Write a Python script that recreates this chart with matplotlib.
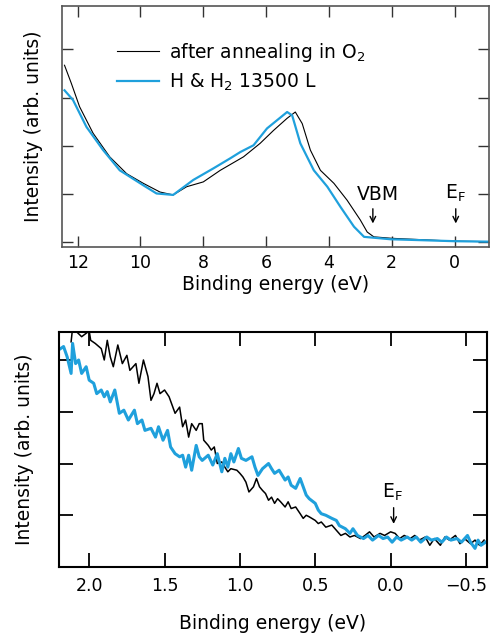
import numpy as np
import matplotlib.pyplot as plt

plt.rcParams['font.family'] = ['DejaVu Sans']
plt.rcParams['mathtext.fontset'] = 'dejavusans'

# valence band, wide range
vb_energy_o2 = [12.42, 12.2, 11.94, 11.51, 10.98, 10.44, 9.91, 9.38, 8.96, 8.53, 8.0,
                7.46, 6.72, 6.19, 5.76, 5.33, 5.07, 4.85, 4.59, 4.27, 3.84, 3.42,
                3.0, 2.78, 2.57, 2.0, 1.0, 0.0, -1.1]
vb_int_o2 = [3.67, 3.29, 2.81, 2.26, 1.77, 1.42, 1.22, 1.04, 0.98, 1.15, 1.25,
             1.49, 1.77, 2.05, 2.32, 2.57, 2.70, 2.46, 1.91, 1.49, 1.22, 0.87,
             0.46, 0.21, 0.11, 0.08, 0.05, 0.02, 0.01]

vb_energy_h = [12.42, 12.15, 11.72, 11.19, 10.66, 9.91, 9.49, 8.96, 8.32, 7.68, 7.14,
               6.82, 6.40, 5.97, 5.65, 5.33, 5.17, 4.91, 4.48, 4.05, 3.63, 3.20,
               2.88, 2.03, 1.0, 0.0, -1.1]
vb_int_h = [3.15, 2.95, 2.39, 1.91, 1.49, 1.18, 1.01, 0.98, 1.29, 1.53, 1.74,
            1.87, 2.01, 2.36, 2.53, 2.70, 2.63, 2.05, 1.49, 1.15, 0.73, 0.32,
            0.11, 0.06, 0.04, 0.02, 0.01]

# gap region near E_F
gap_energy_o2 = [2.12, 2.11, 2.05, 2.0, 1.99, 1.96, 1.92, 1.90, 1.88, 1.86, 1.84, 1.81,
                 1.78, 1.75, 1.73, 1.69, 1.67, 1.64, 1.61, 1.59, 1.57, 1.55, 1.53,
                 1.50, 1.47, 1.45, 1.43, 1.40, 1.38, 1.36, 1.34, 1.32, 1.29, 1.27,
                 1.25, 1.24, 1.21, 1.19, 1.17, 1.15, 1.12, 1.10, 1.08, 1.06, 1.02,
                 1.0, 0.98, 0.96, 0.94, 0.91, 0.89, 0.87, 0.85, 0.83, 0.81, 0.79,
                 0.77, 0.75, 0.73, 0.70, 0.68, 0.66, 0.63, 0.60, 0.58, 0.56, 0.54,
                 0.50, 0.48, 0.46, 0.43, 0.39, 0.36, 0.33, 0.30, 0.27, 0.24, 0.20,
                 0.17, 0.14, 0.11, 0.07, 0.04, 0.0, -0.03, -0.06, -0.09, -0.13,
                 -0.16, -0.19, -0.23, -0.26, -0.29, -0.33, -0.36, -0.39, -0.43,
                 -0.46, -0.49, -0.53, -0.56, -0.59, -0.62]
gap_int_o2 = [4.35, 4.62, 4.45, 4.56, 4.38, 4.32, 4.22, 4.0, 4.38, 4.06, 3.87, 4.29,
              3.93, 4.09, 3.80, 3.93, 3.55, 4.0, 3.68, 3.22, 3.35, 3.55, 3.35,
              3.42, 3.29, 3.13, 2.97, 3.09, 2.71, 2.84, 2.51, 2.77, 2.64, 2.77,
              2.77, 2.45, 2.35, 2.26, 2.32, 2.0, 2.03, 1.93, 1.84, 1.90, 1.87,
              1.81, 1.74, 1.64, 1.45, 1.55, 1.71, 1.55, 1.48, 1.42, 1.29, 1.35,
              1.23, 1.32, 1.26, 1.16, 1.26, 1.13, 1.16, 1.03, 0.94, 1.0, 0.97,
              0.90, 0.84, 0.87, 0.77, 0.81, 0.71, 0.61, 0.65, 0.58, 0.61, 0.55,
              0.61, 0.68, 0.58, 0.65, 0.61, 0.68, 0.65, 0.55, 0.61, 0.55,
              0.61, 0.52, 0.58, 0.42, 0.55, 0.42, 0.58, 0.52, 0.61,
              0.45, 0.55, 0.45, 0.52, 0.42, 0.52]

gap_energy_h = [2.19, 2.17, 2.146, 2.12, 2.11, 2.09, 2.07, 2.05, 2.02, 2.0, 1.97, 1.95,
                1.92, 1.90, 1.88, 1.86, 1.83, 1.80, 1.77, 1.74, 1.70, 1.68, 1.65,
                1.63, 1.59, 1.56, 1.54, 1.51, 1.48, 1.46, 1.43, 1.40, 1.38, 1.36,
                1.34, 1.32, 1.29, 1.27, 1.25, 1.21, 1.18, 1.15, 1.12, 1.10, 1.08,
                1.06, 1.04, 1.01, 0.99, 0.96, 0.92, 0.90, 0.88, 0.85, 0.81, 0.79,
                0.77, 0.74, 0.70, 0.68, 0.66, 0.63, 0.60, 0.58, 0.56, 0.54, 0.50,
                0.48, 0.46, 0.43, 0.39, 0.36, 0.34, 0.30, 0.27, 0.25, 0.22, 0.18,
                0.15, 0.12, 0.08, 0.05, 0.02, -0.01, -0.04, -0.07, -0.11, -0.14,
                -0.17, -0.20, -0.24, -0.27, -0.31, -0.34, -0.37, -0.40, -0.44,
                -0.47, -0.51, -0.53, -0.56, -0.58, -0.60, -0.63]
gap_int_h = [4.22, 4.26, 4.06, 3.74, 4.32, 3.93, 4.0, 3.74, 3.87, 3.61, 3.55, 3.35,
             3.42, 3.29, 3.39, 3.19, 3.42, 2.97, 3.03, 2.84, 3.03, 2.77, 2.84,
             2.64, 2.68, 2.51, 2.71, 2.45, 2.64, 2.32, 2.19, 2.13, 2.16, 1.93,
             2.16, 1.87, 2.35, 2.13, 2.06, 2.16, 1.97, 2.19, 1.84, 2.10, 1.93,
             2.19, 2.03, 2.29, 2.10, 2.06, 2.13, 1.93, 1.77, 1.90, 2.0, 1.90,
             1.81, 1.87, 1.68, 1.74, 1.58, 1.52, 1.71, 1.55, 1.39, 1.32, 1.23,
             1.10, 1.03, 1.0, 0.94, 0.90, 0.80, 0.74, 0.65, 0.74, 0.61, 0.55,
             0.61, 0.52, 0.61, 0.55, 0.58, 0.48, 0.58, 0.52, 0.58, 0.52,
             0.58, 0.48, 0.58, 0.52, 0.55, 0.48, 0.58, 0.52, 0.55,
             0.48, 0.61, 0.48, 0.36, 0.52, 0.42, 0.48]

blue = '#1fa0dc'
fs = 13.5

fig = plt.figure(figsize=(4.92, 6.41), dpi=100)
ax1 = fig.add_axes([0.126, 0.6147, 0.868, 0.376])
ax2 = fig.add_axes([0.120, 0.1154, 0.870, 0.3666])

# --- wide scan ---
ax1.plot(vb_energy_o2, vb_int_o2, color='black', lw=0.8, label='after annealing in O$_2$')
ax1.plot(vb_energy_h, vb_int_h, color=blue, lw=1.6, label='H & H$_2$ 13500 L')
ax1.set_xlim(12.5, -1.1)
ax1.set_ylim(-0.1, 4.9)
ax1.set_xticks([12, 10, 8, 6, 4, 2, 0])
ax1.set_yticks([0, 1, 2, 3, 4])
ax1.set_yticklabels([])
for s in ax1.spines.values():
    s.set_color('#555555')
    s.set_linewidth(1.2)
ax1.tick_params(direction='in', top=True, right=True, length=8, width=1,
                color='#333333', labelsize=12.5, pad=5)
ax1.set_xlabel('Binding energy (eV)', fontsize=fs, labelpad=2)
ax1.set_ylabel('Intensity (arb. units)', fontsize=fs, labelpad=9)
ax1.legend(loc='upper left', bbox_to_anchor=(0.09, 0.925), frameon=False,
           fontsize=fs, handlelength=2.2, handletextpad=0.55, labelspacing=0.4)
ax1.annotate('', xy=(2.6, 0.33), xytext=(2.6, 0.75),
             arrowprops=dict(arrowstyle='->', color='black', lw=1))
ax1.text(2.45, 0.8, 'VBM', fontsize=fs, ha='center', va='bottom')
ax1.annotate('', xy=(-0.04, 0.33), xytext=(-0.04, 0.75),
             arrowprops=dict(arrowstyle='->', color='black', lw=1))
ax1.text(-0.04, 0.8, 'E$_\\mathrm{F}$', fontsize=fs, ha='center', va='bottom')

# --- near E_F ---
ax2.plot(gap_energy_o2, gap_int_o2, color='black', lw=1.1)
ax2.plot(gap_energy_h, gap_int_h, color=blue, lw=2.2)
ax2.set_xlim(2.2, -0.64)
ax2.set_ylim(0, 4.54)
ax2.set_xticks([2.0, 1.5, 1.0, 0.5, 0.0, -0.5])
ax2.set_xticklabels(['2.0', '1.5', '1.0', '0.5', '0.0', '\u22120.5'])
ax2.set_yticks([1, 2, 3, 4])
ax2.set_yticklabels([])
for s in ax2.spines.values():
    s.set_linewidth(1.5)
ax2.tick_params(direction='in', top=True, right=True, length=10, width=1.3,
                labelsize=12.5, pad=7)
ax2.set_xlabel('Binding energy (eV)', fontsize=fs, labelpad=14)
ax2.set_ylabel('Intensity (arb. units)', fontsize=fs, labelpad=11)
ax2.annotate('', xy=(-0.02, 0.78), xytext=(-0.02, 1.2),
             arrowprops=dict(arrowstyle='->', color='black', lw=1))
ax2.text(-0.01, 1.24, 'E$_\\mathrm{F}$', fontsize=fs, ha='center', va='bottom')

fig.savefig('out.png', dpi=100)
